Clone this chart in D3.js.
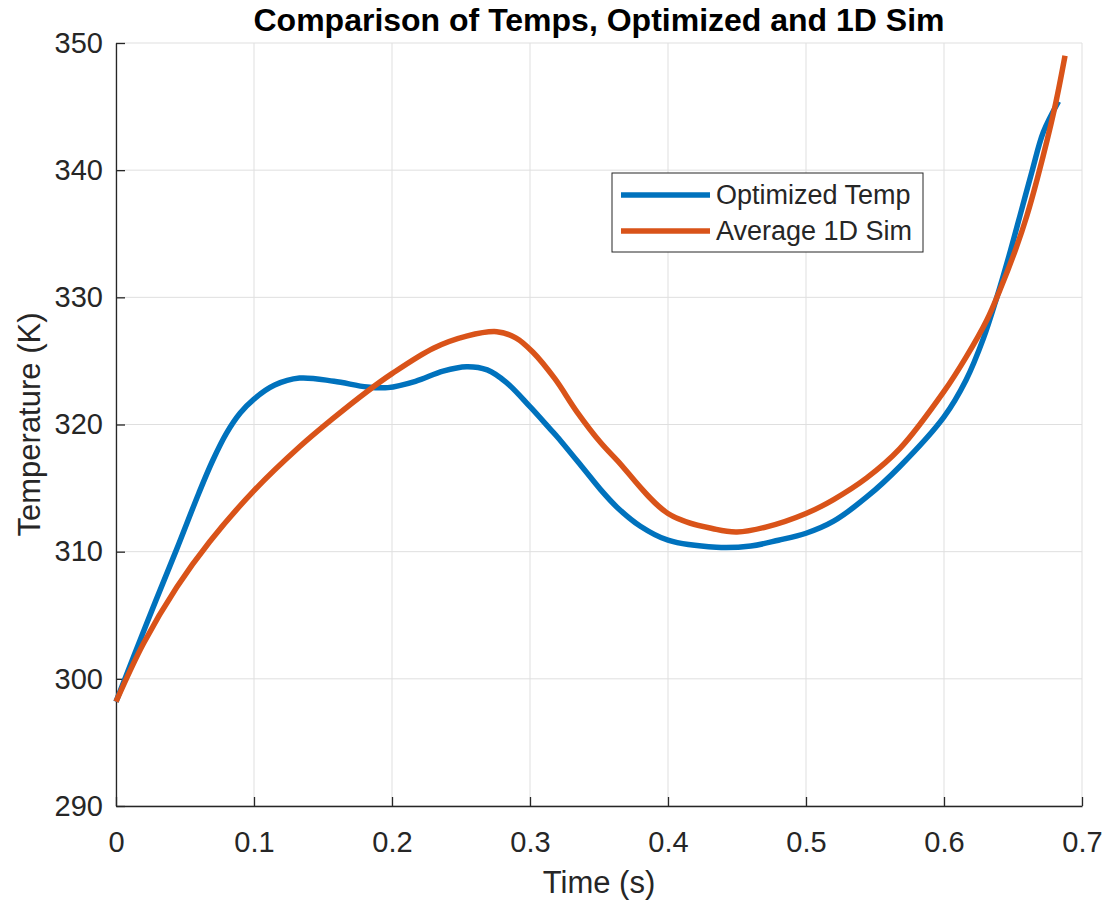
<!DOCTYPE html>
<html>
<head>
<meta charset="utf-8">
<script src="https://cdn.jsdelivr.net/npm/d3@7"></script>
<style>
  body { margin: 0; background: #fff; }
  svg text { font-family: "Liberation Sans", Arial, Helvetica, sans-serif; fill: #262626; }
</style>
</head>
<body>
<svg id="chart" width="1111" height="900"></svg>
<script>
// data
const optTime = [0, 0.022, 0.044, 0.06, 0.07, 0.08, 0.09, 0.1, 0.115, 0.133, 0.158, 0.182, 0.197,
  0.217, 0.237, 0.254, 0.269, 0.283, 0.3, 0.315, 0.320, 0.339, 0.351, 0.363, 0.38, 0.4, 0.435, 0.46,
  0.48, 0.5, 0.52, 0.544, 0.568, 0.6, 0.616, 0.6285, 0.638, 0.648, 0.656, 0.664, 0.672, 0.683];
const optTemp = [298.2, 304.3, 310.2, 314.6, 317.15, 319.3, 320.9, 322.0, 323.1, 323.65, 323.4, 322.95, 322.9,
  323.4, 324.2, 324.55, 324.3, 323.3, 321.4, 319.6, 319.0, 316.5, 314.9, 313.5, 312.0, 310.9, 310.35, 310.45,
  310.9, 311.45, 312.4, 314.3, 316.7, 320.6, 323.5, 326.75, 329.9, 333.6, 336.8, 340.0, 343.0, 345.4];

const simTime = [0, 0.02, 0.044, 0.068, 0.1, 0.133, 0.1575, 0.182, 0.2,
  0.23, 0.254, 0.276, 0.29, 0.302, 0.318, 0.334, 0.351, 0.363, 0.4, 0.435, 0.45, 0.4715, 0.5, 0.52,
  0.544, 0.568, 0.6, 0.616, 0.631, 0.6406, 0.652, 0.66, 0.668, 0.680, 0.6877];
const simTemp = [298.2, 302.8, 307.2, 310.8, 314.8, 318.25, 320.5, 322.6, 324.0,
  326.0, 326.95, 327.3, 326.8, 325.7, 323.6, 321.0, 318.6, 317.2, 313.0, 311.75, 311.55, 311.95, 313.0, 314.1,
  315.8, 318.1, 322.6, 325.3, 328.2, 330.6, 333.8, 336.4, 339.5, 344.8, 349.0];

const xTicks = [0, 0.1, 0.2, 0.3, 0.4, 0.5, 0.6, 0.7];
const yTicks = [290, 300, 310, 320, 330, 340, 350];
const seriesNames = ["Optimized Temp", "Average 1D Sim"];
const seriesColors = ["#0072BD", "#D95319"];

const margin = {top: 43, right: 29, bottom: 94, left: 116};
const width = 1111 - margin.left - margin.right;
const height = 900 - margin.top - margin.bottom;

const svg = d3.select("#chart");
const g = svg.append("g").attr("transform", `translate(${margin.left},${margin.top})`);

const x = d3.scaleLinear().domain([0, 0.7]).range([0, width]);
const y = d3.scaleLinear().domain([290, 350]).range([height, 0]);

// grid
g.append("g").selectAll("line").data(xTicks).join("line")
  .attr("x1", d => x(d)).attr("x2", d => x(d)).attr("y1", 0).attr("y2", height)
  .attr("stroke", "#dfdfdf").attr("stroke-width", 1);
g.append("g").selectAll("line").data(yTicks).join("line")
  .attr("x1", 0).attr("x2", width).attr("y1", d => y(d)).attr("y2", d => y(d))
  .attr("stroke", "#dfdfdf").attr("stroke-width", 1);

// axes, ticks inward
const xAxis = g.append("g").attr("transform", `translate(0,${height})`)
  .call(d3.axisBottom(x).tickValues(xTicks).tickSizeInner(-9).tickSizeOuter(0).tickPadding(25).tickFormat(d3.format("")));
const yAxis = g.append("g")
  .call(d3.axisLeft(y).tickValues(yTicks).tickSizeInner(-9).tickSizeOuter(0).tickPadding(13).tickFormat(d3.format("")));
[xAxis, yAxis].forEach(a => {
  a.select(".domain").attr("stroke", "#262626").attr("stroke-width", 1.3);
  a.selectAll(".tick line").attr("stroke", "#262626").attr("stroke-width", 1.3);
  a.selectAll(".tick text").attr("font-size", 29).attr("fill", "#262626");
});
xAxis.selectAll(".tick text").attr("dy", "0.71em");

// lines
const line = d3.line().x(d => x(d[0])).y(d => y(d[1])).curve(d3.curveCatmullRom.alpha(0.5));
const optData = optTime.map((t, i) => [t, optTemp[i]]);
const simData = simTime.map((t, i) => [t, simTemp[i]]);
[optData, simData].forEach((data, i) => {
  g.append("path").datum(data)
    .attr("fill", "none").attr("stroke", seriesColors[i])
    .attr("stroke-width", 5.5).attr("stroke-linejoin", "round")
    .attr("d", line);
});

// title and labels
svg.append("text").attr("x", margin.left + width / 2).attr("y", 31)
  .attr("text-anchor", "middle").attr("font-size", 32).attr("font-weight", "bold")
  .style("fill", "#000")
  .text("Comparison of Temps, Optimized and 1D Sim");
svg.append("text").attr("x", margin.left + width / 2).attr("y", 893)
  .attr("text-anchor", "middle").attr("font-size", 31)
  .text("Time (s)");
svg.append("text").attr("transform", `translate(40,${margin.top + height / 2}) rotate(-90)`)
  .attr("text-anchor", "middle").attr("font-size", 31)
  .text("Temperature (K)");

// legend
const lg = svg.append("g").attr("transform", "translate(612,173)");
lg.append("rect").attr("width", 311).attr("height", 79)
  .attr("fill", "#fff").attr("stroke", "#262626").attr("stroke-width", 1);
seriesNames.forEach((name, i) => {
  const yy = 22 + i * 36;
  lg.append("line").attr("x1", 9).attr("x2", 98).attr("y1", yy).attr("y2", yy)
    .attr("stroke", seriesColors[i]).attr("stroke-width", 5.5);
  lg.append("text").attr("x", 104).attr("y", yy).attr("dy", "0.35em")
    .attr("font-size", 27).text(name);
});
</script>
</body>
</html>
